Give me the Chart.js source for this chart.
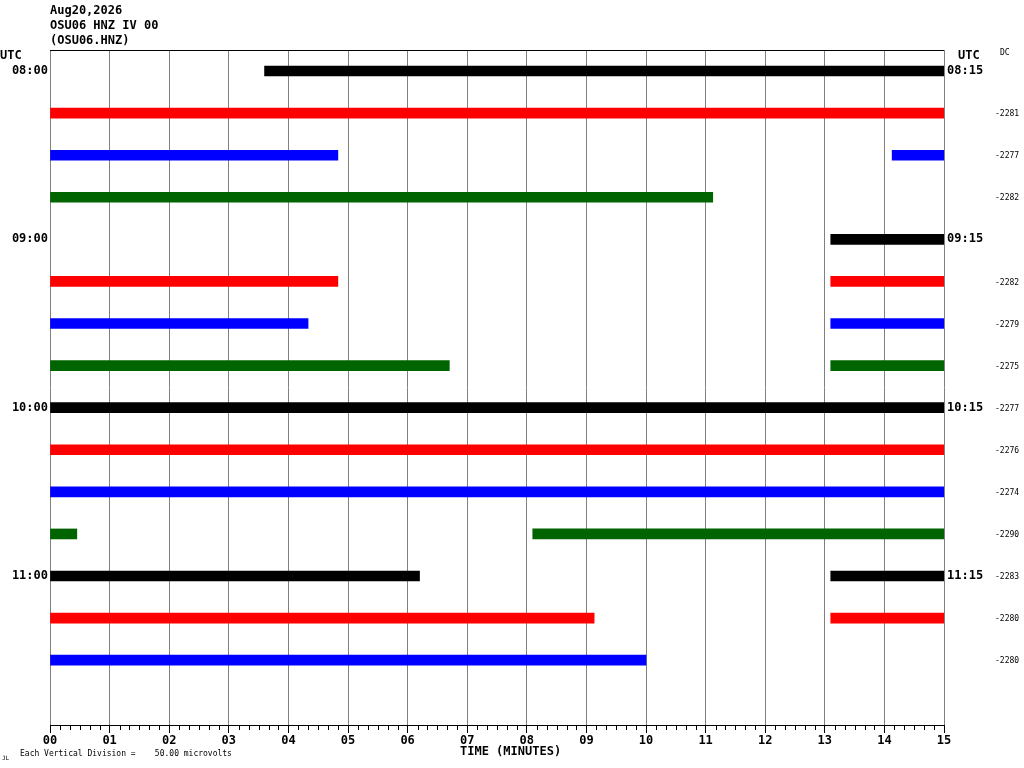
<!DOCTYPE html>
<html>
<head>
<meta charset="utf-8">
<script src="https://cdn.jsdelivr.net/npm/chart.js@4/dist/chart.umd.min.js"></script>
<style>
  html, body { margin: 0; padding: 0; background: #fff; }
  #wrap { width: 1024px; height: 768px; }
</style>
</head>
<body>
<div id="wrap"><canvas id="heli" width="1024" height="768"></canvas></div>
<script>
// --- helicorder data ---
const headerLines = ['Aug20,2026', 'OSU06 HNZ IV 00', '(OSU06.HNZ)'];
const minuteTicks = [0, 1, 2, 3, 4, 5, 6, 7, 8, 9, 10, 11, 12, 13, 14, 15];
const rowTicks = [0, 1, 2, 3, 4, 5, 6, 7, 8, 9, 10, 11, 12, 13, 14];
const leftLabels = ['08:00', '', '', '', '09:00', '', '', '', '10:00', '', '', '', '11:00', '', ''];
const rightLabels = ['08:15', '', '', '', '09:15', '', '', '', '10:15', '', '', '', '11:15', '', ''];
const dcValues = ['', '-2281', '-2277', '-2282', '', '-2282', '-2279', '-2275', '-2277', '-2276', '-2274', '-2290', '-2283', '-2280', '-2280'];
const traceColors = ['#000000', '#ff0000', '#0000ff', '#006400'];

// each trace piece: row, start minute, end minute
const segRow   = [0,    1,  2,    2,     3,     4,    5,    5,    6,    6,    7,    7,    8,  9,  10, 11,   11,  12,   12,   13,   13,   14];
const segStart = [3.6,  0,  0,    14.13, 0,     13.1, 0,    13.1, 0,    13.1, 0,    13.1, 0,  0,  0,  0,    8.1, 0,    13.1, 0,    13.1, 0];
const segEnd   = [15,   15, 4.83, 15,    11.12, 15,   4.83, 15,   4.33, 15,   6.7,  15,   15, 15, 15, 0.45, 15,  6.2,  15,   9.13, 15,   10.0];

const MONO = '"DejaVu Sans Mono", "Liberation Mono", monospace';

const decor = {
    id: 'decor',
    afterDraw(chart) {
        const ctx = chart.ctx;
        const area = chart.chartArea;
        const xs = chart.scales.x;
        const ys = chart.scales.y;
        ctx.save();

        // top frame line
        ctx.strokeStyle = '#000';
        ctx.lineWidth = 1;
        ctx.beginPath();
        ctx.moveTo(area.left, area.top + 0.5);
        ctx.lineTo(area.right, area.top + 0.5);
        ctx.stroke();

        // minor ticks every 10 seconds
        ctx.beginPath();
        for (let i = 0; i <= 90; i++) {
            if (i % 6 === 0) continue;
            const px = Math.round(xs.getPixelForValue(i / 6)) + 0.5;
            ctx.moveTo(px, area.bottom);
            ctx.lineTo(px, area.bottom + 5);
        }
        ctx.stroke();

        ctx.fillStyle = '#000';
        ctx.textBaseline = 'middle';
        ctx.textAlign = 'left';
        ctx.font = 'bold 12px ' + MONO;
        headerLines.forEach((t, i) => ctx.fillText(t, 50, 11 + i * 15));
        ctx.fillText('UTC', 0, 56);
        ctx.fillText('UTC', 958, 56);
        ctx.fillText('TIME (MINUTES)', 460, 752);

        ctx.font = '8px ' + MONO;
        ctx.fillText('DC', 1000, 53);
        dcValues.forEach((v, i) => {
            if (v) ctx.fillText(v, 995, ys.getPixelForValue(i) + 1);
        });
        ctx.fillText('Each Vertical Division =    50.00 microvolts', 20, 754);
        ctx.font = '6px ' + MONO;
        ctx.fillText('JL', 2, 758);
        ctx.restore();
    }
};

const sharedRows = {
    type: 'linear',
    min: -0.5,
    max: 15.54,
    reverse: true,
    offset: false,
    grid: { display: false, drawTicks: false, tickLength: 0, offset: false },
    border: { display: false },
    afterBuildTicks: (scale) => { scale.ticks = rowTicks.map(v => ({ value: v })); }
};

new Chart(document.getElementById('heli'), {
    type: 'bar',
    data: {
        datasets: [{
            data: segRow.map((r, i) => ({ y: r, x: [segStart[i], segEnd[i]] })),
            backgroundColor: segRow.map(r => traceColors[r % 4]),
            borderWidth: 0,
            barThickness: 10,
            xAxisID: 'x',
            yAxisID: 'y'
        }]
    },
    options: {
        indexAxis: 'y',
        responsive: false,
        animation: false,
        layout: { padding: { top: 50, left: 0, right: 0, bottom: 0 } },
        plugins: { legend: { display: false }, tooltip: { enabled: false } },
        scales: {
            x: {
                type: 'linear',
                min: 0,
                max: 15,
                offset: false,
                afterBuildTicks: (scale) => { scale.ticks = minuteTicks.map(v => ({ value: v })); },
                afterFit: (scale) => { scale.height = 43; },
                grid: { color: '#808080', tickColor: '#000', tickLength: 8, offset: false },
                border: { display: true, color: '#000', width: 1 },
                ticks: {
                    color: '#000',
                    padding: 1,
                    maxRotation: 0,
                    font: { family: MONO, size: 12, weight: 'bold' },
                    callback: (v) => String(v).padStart(2, '0')
                }
            },
            y: {
                ...sharedRows,
                position: 'left',
                afterFit: (scale) => { scale.width = 50; },
                ticks: {
                    color: '#000',
                    padding: 2,
                    font: { family: MONO, size: 12, weight: 'bold' },
                    callback: (v) => leftLabels[v] || ''
                }
            },
            y2: {
                ...sharedRows,
                position: 'right',
                afterFit: (scale) => { scale.width = 80; },
                ticks: {
                    color: '#000',
                    padding: 3,
                    font: { family: MONO, size: 12, weight: 'bold' },
                    callback: (v) => rightLabels[v] || ''
                }
            }
        }
    },
    plugins: [decor]
});
</script>
</body>
</html>
